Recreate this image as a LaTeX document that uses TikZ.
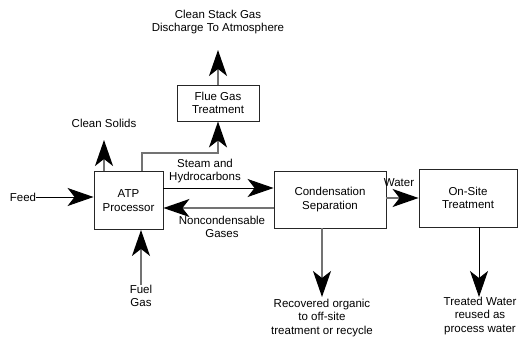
\documentclass[tikz,border=0pt]{standalone}
\usepackage{fontspec}
\setmainfont{Liberation Sans}
\usepackage{tikz}
\usetikzlibrary{arrows.meta}
\usetikzlibrary{positioning}
\tikzset{
    unit/.style = {rectangle, draw=black!85, line width=0.9pt, align=center, inner sep=0pt, font=\fontsize{11.5}{13.5}\selectfont},
    lbl/.style = {align=center, inner sep=0pt, font=\fontsize{11.5}{13.5}\selectfont},
    flow/.style = {draw=black!55, line width=1.3pt, -{Stealth[length=26pt, width=18pt, inset=7pt, color=black]}},
    bflow/.style = {flow, draw=black, line width=0.9pt}
}

\begin{document}
\begin{tikzpicture}[x=1pt, y=-1pt]
    \useasboundingbox (0,0) rectangle (518,337);
    \clip (0,0) rectangle (518,337);
    % process units
    \node [unit, minimum width=69pt, minimum height=58pt] (atp) at (128.5,200.5) {ATP\\Processor};
    \node [unit, minimum width=82pt, minimum height=36pt] (flue) at (218,103) {Flue Gas\\Treatment};
    \node [unit, minimum width=112pt, minimum height=57pt] (cond) at (330,199.5) {Condensation\\Separation};
    \node [unit, minimum width=98pt, minimum height=58pt] (onsite) at (468,198) {On-Site\\Treatment};
    % streams in and out
    \node [lbl] (stack) at (218,22) {Clean Stack Gas\\Discharge To Atmosphere};
    \node [lbl] (solids) at (104,123) {Clean Solids};
    \node [lbl] (feed) at (23,197) {Feed};
    \node [lbl] (fuel) at (141,296) {Fuel\\Gas};
    \node [lbl] (steam) at (205,171) {Steam and\\Hydrocarbons};
    \node [lbl] (noncond) at (222,227) {Noncondensable\\Gases};
    \node [lbl] (water) at (399,183) {Water};
    \node [lbl] (recov) at (322,318) {Recovered organic\\to off-site\\treatment or recycle};
    \node [lbl] (treated) at (480,316) {Treated Water\\reused as\\process water};
    % arrow ends
    \coordinate (stacktip) at (218,50);
    \coordinate (solidstip) at (104,140);
    \coordinate (split) at (142,153);
    \coordinate (recovtip) at (322,297);
    \coordinate (treatedtip) at (479,297);
    % connectors
    \draw [flow] (flue.north) -- (stacktip);
    \draw [flow] (atp.north -| solidstip) -- (solidstip);
    \draw [flow] (atp.north -| split) -- (split) -| (flue.south);
    \draw [bflow] (feed.east) -- (atp.west |- feed.east);
    \draw [flow] (fuel.north) -- (atp.south -| fuel.north);
    \draw [bflow] ([yshift=12.5pt]atp.east) -- ([yshift=12.5pt]atp.east -| cond.west);
    \draw [flow] ([yshift=-7.5pt]atp.east -| cond.west) -- ([yshift=-7.5pt]atp.east);
    \draw [flow] ([yshift=1.5pt]cond.east) -- ([yshift=1.5pt]cond.east -| onsite.west);
    \draw [flow] (cond.south -| recovtip) -- (recovtip);
    \draw [bflow] (onsite.south -| treatedtip) -- (treatedtip);
\end{tikzpicture}
\end{document}
